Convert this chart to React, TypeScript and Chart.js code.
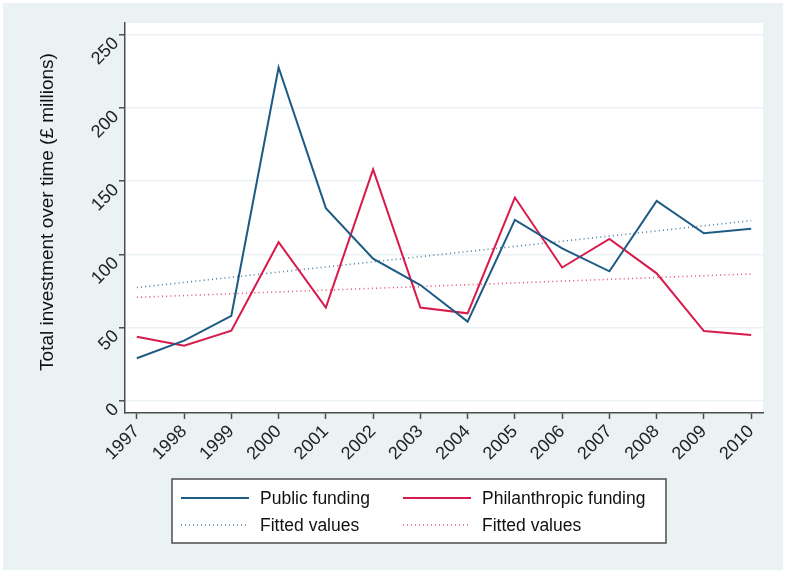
import React, { useEffect, useRef } from "react";
import { Chart, registerables } from "chart.js";

Chart.register(...registerables);

const years = [1997, 1998, 1999, 2000, 2001, 2002, 2003, 2004, 2005, 2006, 2007, 2008, 2009, 2010];
const publicFunding = [29, 41, 58, 227.6, 131.5, 97, 79, 54, 123.5, 104, 88.4, 136.5, 114.4, 117.4];
const philanthropicFunding = [43.7, 37.6, 47.8, 108.3, 63.6, 158, 63.6, 59.7, 138.8, 91, 110.5, 87, 47.6, 44.9];
const fittedYears = [1997, 2010];
const publicFitted = [77.3, 123];
const philanthropicFitted = [70.6, 86.6];
const yTicks = [0, 50, 100, 150, 200, 250];

const yTitle = "Total investment over time (£ millions)";
const legendLabels = ["Public funding", "Philanthropic funding", "Fitted values", "Fitted values"];

const BLUE = "#1d5b85";
const RED = "#d81b4c";
const BLUE_FIT = "#4f7f9f";
const RED_FIT = "#e0557c";
const BG = "#EAF2F3";
const AXIS = "#4d4d4d";
const FONT = "'Liberation Sans', Arial, Helvetica, sans-serif";

const bgPlugin = {
  id: "stataBg",
  beforeDraw(chart: any) {
    const { ctx, width, height, chartArea } = chart;
    ctx.save();
    ctx.fillStyle = "#ffffff";
    ctx.fillRect(0, 0, width, height);
    ctx.fillStyle = BG;
    ctx.fillRect(3, 3, 780, 567);
    ctx.fillStyle = "#ffffff";
    ctx.fillRect(chartArea.left, chartArea.top, chartArea.right - chartArea.left, chartArea.bottom - chartArea.top);
    ctx.restore();
  },
};

const textPlugin = {
  id: "stataYText",
  afterDraw(chart: any) {
    const { ctx } = chart;
    const yScale = chart.scales.y;
    ctx.save();
    ctx.fillStyle = "#222222";
    ctx.font = `18px ${FONT}`;
    ctx.textAlign = "right";
    ctx.textBaseline = "middle";
    for (const v of yTicks) {
      const py = yScale.getPixelForValue(v);
      ctx.save();
      ctx.translate(yScale.right - 9, py + 6);
      ctx.rotate(-Math.PI / 4);
      ctx.fillText(String(v), 0, 0);
      ctx.restore();
    }
    ctx.translate(48, 212);
    ctx.rotate(-Math.PI / 2);
    ctx.fillStyle = "#111111";
    ctx.font = `19px ${FONT}`;
    ctx.textAlign = "center";
    ctx.textBaseline = "middle";
    ctx.fillText(yTitle, 0, 0);
    ctx.restore();
  },
};

const legendPlugin = {
  id: "stataLegend",
  afterDraw(chart: any) {
    const { ctx } = chart;
    ctx.save();
    const bx = 172, by = 479, bw = 494, bh = 64;
    ctx.fillStyle = "#ffffff";
    ctx.fillRect(bx, by, bw, bh);
    ctx.strokeStyle = AXIS;
    ctx.lineWidth = 1.5;
    ctx.strokeRect(bx, by, bw, bh);
    const items = [
      { label: legendLabels[0], color: BLUE, dash: [] as number[], x: 181, y: 498, w: 2 },
      { label: legendLabels[1], color: RED, dash: [] as number[], x: 403, y: 498, w: 2 },
      { label: legendLabels[2], color: BLUE_FIT, dash: [1, 3], x: 181, y: 525, w: 1.5 },
      { label: legendLabels[3], color: RED_FIT, dash: [1, 3], x: 403, y: 525, w: 1.5 },
    ];
    for (const it of items) {
      ctx.beginPath();
      ctx.setLineDash(it.dash);
      ctx.strokeStyle = it.color;
      ctx.lineWidth = it.w;
      ctx.moveTo(it.x, it.y);
      ctx.lineTo(it.x + 68, it.y);
      ctx.stroke();
      ctx.setLineDash([]);
      ctx.fillStyle = "#111111";
      ctx.font = `17.5px ${FONT}`;
      ctx.textAlign = "left";
      ctx.textBaseline = "middle";
      ctx.fillText(it.label, it.x + 79, it.y + 1);
    }
    ctx.restore();
  },
};

export default function App() {
  const ref = useRef<HTMLCanvasElement | null>(null);

  useEffect(() => {
    document.body.style.margin = "0";
    const canvas = ref.current;
    if (!canvas) return;
    const chart = new Chart(canvas, {
      type: "line",
      data: {
        datasets: [
          {
            label: "Public funding",
            data: years.map((x, i) => ({ x, y: publicFunding[i] })),
            borderColor: BLUE,
            borderWidth: 2,
            pointRadius: 0,
            tension: 0,
          },
          {
            label: "Philanthropic funding",
            data: years.map((x, i) => ({ x, y: philanthropicFunding[i] })),
            borderColor: RED,
            borderWidth: 2,
            pointRadius: 0,
            tension: 0,
          },
          {
            label: "Fitted values",
            data: fittedYears.map((x, i) => ({ x, y: publicFitted[i] })),
            borderColor: BLUE_FIT,
            borderWidth: 1.6,
            borderDash: [1, 3.2],
            pointRadius: 0,
          },
          {
            label: "Fitted values",
            data: fittedYears.map((x, i) => ({ x, y: philanthropicFitted[i] })),
            borderColor: RED_FIT,
            borderWidth: 1.6,
            borderDash: [1, 3.2],
            pointRadius: 0,
          },
        ],
      },
      options: {
        animation: false,
        responsive: false,
        devicePixelRatio: 1,
        layout: { padding: { left: 0, top: 23, right: 24, bottom: 0 } },
        plugins: { legend: { display: false }, tooltip: { enabled: false } },
        scales: {
          x: {
            type: "linear",
            min: 1996.75,
            max: 2010.25,
            afterBuildTicks: (s: any) => {
              s.ticks = years.map((v) => ({ value: v }));
            },
            afterFit: (s: any) => {
              s.height = 161;
            },
            ticks: {
              minRotation: 45,
              maxRotation: 45,
              padding: 2,
              color: "#222222",
              font: { family: FONT, size: 18 },
              callback: (v: any) => String(v),
            },
            grid: { drawOnChartArea: false, tickLength: 6, tickColor: AXIS, tickWidth: 1.5 },
            border: { color: AXIS, width: 1.5 },
          },
          y: {
            min: -8.4,
            max: 258,
            afterBuildTicks: (s: any) => {
              s.ticks = yTicks.map((v) => ({ value: v }));
            },
            afterFit: (s: any) => {
              s.width = 125;
            },
            ticks: {
              display: false,
              callback: (v: any) => String(v),
            },
            grid: { color: BG, lineWidth: 1.5, tickLength: 6, tickColor: AXIS, tickWidth: 1.5 },
            border: { color: AXIS, width: 1.5 },
          },
        },
      },
      plugins: [bgPlugin, textPlugin, legendPlugin],
    } as any);
    return () => chart.destroy();
  }, []);

  return (
    <div style={{ width: 787, height: 574 }}>
      <canvas ref={ref} width={787} height={574} style={{ display: "block", width: 787, height: 574 }} />
    </div>
  );
}
